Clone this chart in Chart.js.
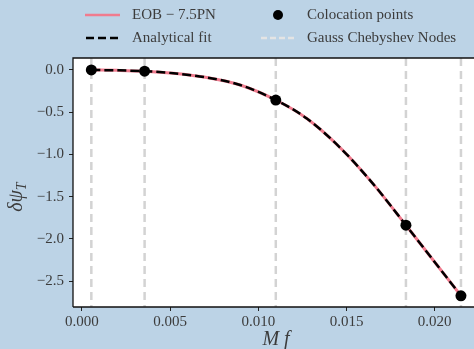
<!DOCTYPE html>
<html>
<head>
<meta charset="utf-8">
<script src="https://cdn.jsdelivr.net/npm/chart.js@4.4.1/dist/chart.umd.min.js"></script>
<style>
    html, body { margin: 0; padding: 0; background: #bcd3e6; overflow: hidden; }
    #wrap { position: relative; width: 474px; height: 349px; }
</style>
</head>
<body>
<div id="wrap"><canvas id="chart" width="474" height="349"></canvas></div>
<script>
// Values
const xNodes = [0.00053, 0.00355, 0.01099, 0.01837, 0.02149];
const yColloc = [0.0, -0.014, -0.356, -1.839, -2.675];

const xCurve = [0.00053, 0.0020, 0.00355, 0.00519, 0.00708, 0.00897, 0.01099, 0.01275, 0.01463, 0.01652, 0.01837, 0.01992, 0.02149];
const yEob   = [0.0, -0.004, -0.014, -0.039, -0.089, -0.178, -0.356, -0.575, -0.919, -1.352, -1.839, -2.254, -2.675];
const yFit   = [0.0, -0.004, -0.014, -0.039, -0.089, -0.178, -0.356, -0.575, -0.919, -1.352, -1.839, -2.254, -2.675];

const xTicks = [0.000, 0.005, 0.010, 0.015, 0.020];
const yTicks = [0.0, -0.5, -1.0, -1.5, -2.0, -2.5];

const X_MIN = -0.00051, X_MAX = 0.02223;
const Y_MIN = -2.808, Y_MAX = 0.142;

const SERIF = '"Liberation Serif", "DejaVu Serif", serif';
const TEXT = '#3c3c3c';
const PINK = '#f07b8e';
const NODE_GREY = '#d3d3d3';

const toPts = (xs, ys) => xs.map((x, i) => ({ x: x, y: ys[i] }));
const minus = s => s.replace('-', '\u2212');

// one vertical dashed line per Chebyshev node, spanning the full y range
const nodeSets = xNodes.map(x => ({
    data: [{ x: x, y: Y_MAX }, { x: x, y: Y_MIN }],
    borderColor: NODE_GREY,
    borderWidth: 2.5,
    borderDash: [8, 5],
    pointRadius: 0,
    order: 3
}));

// frame, legend and axis titles
const decor = {
    id: 'decor',
    beforeDatasetsDraw(chart) {
        const { ctx, chartArea: a } = chart;
        ctx.save();
        ctx.fillStyle = '#ffffff';
        ctx.fillRect(a.left, a.top, a.right - a.left, a.bottom - a.top);
        ctx.restore();
    },
    afterDraw(chart) {
        const { ctx, chartArea: a } = chart;
        ctx.save();

        // left, top and bottom spines (right one is cut off in the picture)
        ctx.strokeStyle = '#111';
        ctx.lineWidth = 1.3;
        ctx.beginPath();
        ctx.moveTo(a.left, a.bottom);
        ctx.lineTo(a.left, a.top);
        ctx.lineTo(a.right + 2, a.top);
        ctx.moveTo(a.left, a.bottom);
        ctx.lineTo(a.right + 2, a.bottom);
        ctx.stroke();

        // legend, two columns
        ctx.font = '15px ' + SERIF;
        ctx.fillStyle = TEXT;
        ctx.textBaseline = 'middle';
        ctx.textAlign = 'left';
        const r1 = 15, r2 = 38;

        ctx.lineWidth = 2.5;
        ctx.strokeStyle = PINK;
        ctx.beginPath(); ctx.moveTo(85, r1); ctx.lineTo(120, r1); ctx.stroke();
        ctx.fillText('EOB \u2212 7.5PN', 132, r1);

        ctx.strokeStyle = '#000';
        ctx.setLineDash([8, 4]);
        ctx.beginPath(); ctx.moveTo(86, r2); ctx.lineTo(120, r2); ctx.stroke();
        ctx.fillText('Analytical fit', 132, r2);

        ctx.strokeStyle = '#e4e4e4';
        ctx.setLineDash([6, 3]);
        ctx.beginPath(); ctx.moveTo(261, r2); ctx.lineTo(295, r2); ctx.stroke();
        ctx.setLineDash([]);
        ctx.fillText('Gauss Chebyshev Nodes', 307, r2);

        ctx.fillStyle = '#000';
        ctx.beginPath(); ctx.arc(278, r1, 5, 0, Math.PI * 2); ctx.fill();
        ctx.fillStyle = TEXT;
        ctx.fillText('Colocation points', 307, r1);

        // x axis title
        ctx.font = 'italic 20px ' + SERIF;
        ctx.textAlign = 'center';
        ctx.fillText('M f', 276, 340);

        // y axis title with subscript
        ctx.translate(17, 196);
        ctx.rotate(-Math.PI / 2);
        ctx.textAlign = 'left';
        ctx.font = 'italic 20px ' + SERIF;
        const w = ctx.measureText('\u03b4\u03c8').width;
        const wT = 10;
        const x0 = -(w + wT) / 2;
        ctx.fillText('\u03b4\u03c8', x0, 0);
        ctx.font = 'italic 14px ' + SERIF;
        ctx.fillText('T', x0 + w, 5);

        ctx.restore();
    }
};

const tickFont = { family: SERIF, size: 15 };

new Chart(document.getElementById('chart'), {
    type: 'line',
    data: {
        datasets: [
            {
                label: 'Colocation points',
                data: toPts(xNodes, yColloc),
                showLine: false,
                pointRadius: 5.5,
                pointBackgroundColor: '#000',
                pointBorderWidth: 0,
                order: 0
            },
            {
                label: 'Analytical fit',
                data: toPts(xCurve, yFit),
                borderColor: '#000',
                borderWidth: 2.5,
                borderDash: [9, 4],
                cubicInterpolationMode: 'monotone',
                pointRadius: 0,
                order: 1
            },
            {
                label: 'EOB \u2212 7.5PN',
                data: toPts(xCurve, yEob),
                borderColor: PINK,
                borderWidth: 3,
                cubicInterpolationMode: 'monotone',
                pointRadius: 0,
                order: 2
            },
            ...nodeSets
        ]
    },
    options: {
        responsive: false,
        animation: false,
        layout: { autoPadding: false, padding: { top: 58, left: 0, right: 0, bottom: 0 } },
        plugins: { legend: { display: false }, tooltip: { enabled: false } },
        scales: {
            x: {
                type: 'linear',
                min: X_MIN,
                max: X_MAX,
                afterBuildTicks: s => { s.ticks = xTicks.map(v => ({ value: v })); },
                afterFit: s => { s.height = 42; },
                grid: { drawOnChartArea: false, drawTicks: true, tickLength: 4, color: '#222' },
                border: { display: false },
                ticks: {
                    font: tickFont,
                    color: TEXT,
                    padding: 2,
                    maxRotation: 0,
                    callback: v => v.toFixed(3)
                }
            },
            y: {
                type: 'linear',
                min: Y_MIN,
                max: Y_MAX,
                afterBuildTicks: s => { s.ticks = yTicks.map(v => ({ value: v })); },
                afterFit: s => { s.width = 73; },
                grid: { drawOnChartArea: false, drawTicks: true, tickLength: 4, color: '#222' },
                border: { display: false },
                ticks: {
                    font: tickFont,
                    color: TEXT,
                    padding: 5,
                    callback: v => minus(v.toFixed(1))
                }
            }
        }
    },
    plugins: [decor]
});
</script>
</body>
</html>
